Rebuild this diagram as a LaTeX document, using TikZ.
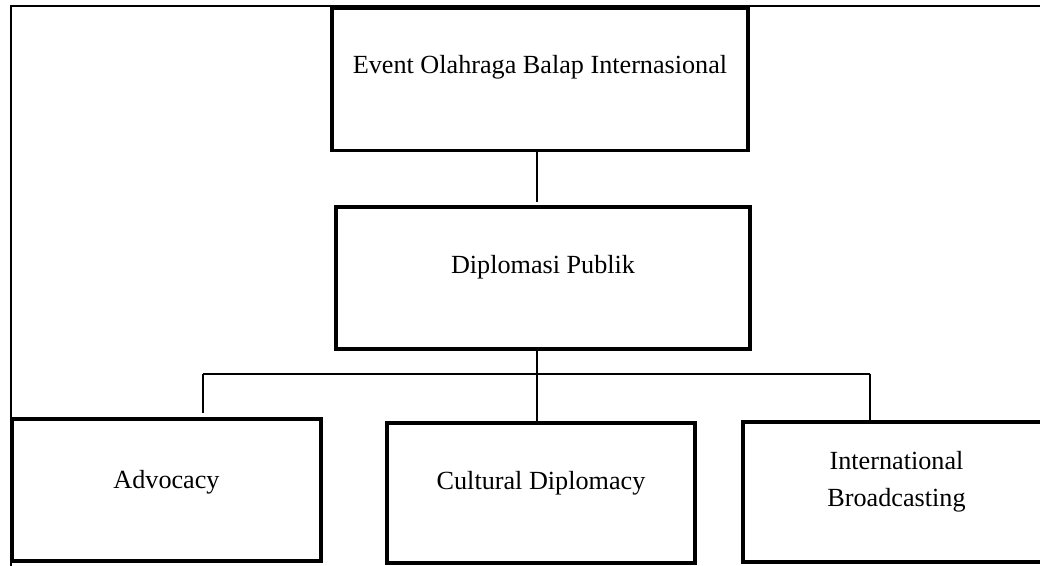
\documentclass[tikz,border=0pt]{standalone}
\usepackage{fontspec}
\setmainfont{Liberation Serif}
\usetikzlibrary{positioning, calc}

\begin{document}
\begin{tikzpicture}[
  x=0.02cm, y=-0.02cm,
  box/.style={draw, rectangle, line width=2.2pt, inner sep=0pt, outer sep=0pt},
  boxtext/.style={font=\fontsize{14.9pt}{21pt}\selectfont, align=center, inner sep=0pt},
  link/.style={line width=0.6pt, black},
  frame/.style={line width=0.85pt, black}
]
\useasboundingbox (0,0) rectangle (1040,565);
\clip (0,0) rectangle (1040,565);

% outer frame
\draw[frame] (11,575) -- (11,6) -- (1050,6);

% boxes
\node[box, minimum width=8.32cm, minimum height=2.84cm] (top)  at (540,79.5) {};
\node[box, minimum width=8.28cm, minimum height=2.84cm] (mid)  at (543,278) {};
\node[box, minimum width=6.18cm, minimum height=2.84cm] (adv)  at (166.5,490) {};
\node[box, minimum width=6.16cm, minimum height=2.80cm] (cult) at (541,493) {};
\node[box, minimum width=6.14cm, minimum height=2.80cm] (intl) at (896.5,492) {};

% labels
\node[boxtext] (topT)  at ([yshift=0.24cm]top.center)  {Event Olahraga Balap Internasional};
\node[boxtext] (midT)  at ([yshift=0.22cm]mid.center)  {Diplomasi Publik};
\node[boxtext] (advT)  at ([yshift=0.16cm]adv.center)  {Advocacy};
\node[boxtext] (cultT) at ([yshift=0.2cm]cult.center)  {Cultural Diplomacy};
\node[boxtext] (intlT) at ([yshift=0.2cm]intl.center)  {International\\Broadcasting};

% branch
\coordinate (barL) at (203,374);
\coordinate (barR) at (870,374);

\draw[link, shorten >=0.1cm] (top.south -| 537,0) -- (mid.north -| 537,0);
\draw[link] (mid.south -| 537,0) -- (cult.north -| 537,0);
\draw[link] (barL) -- (barR);
\draw[link, shorten >=0.12cm] (barL) -- (barL |- adv.north);
\draw[link] (barR) -- (barR |- intl.north);

\end{tikzpicture}
\end{document}
